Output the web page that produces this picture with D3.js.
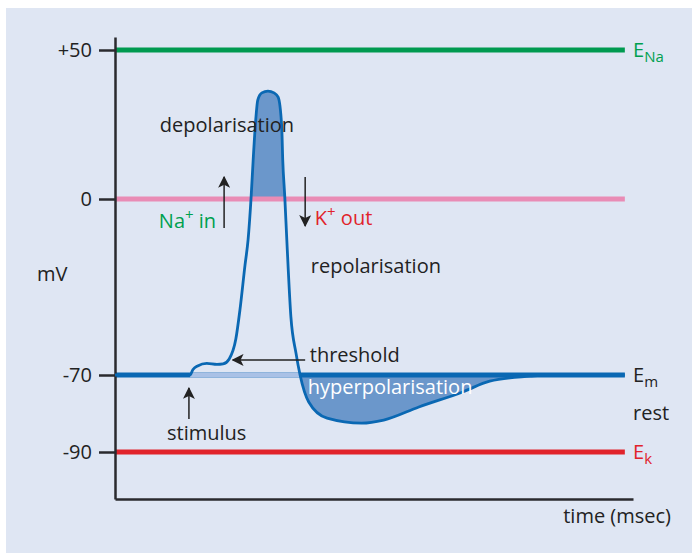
<!DOCTYPE html>
<html>
<head>
<meta charset="utf-8">
<script src="https://cdn.jsdelivr.net/npm/d3@7"></script>
<style>
  body { margin: 0; background: #fff; }
  text { font-family: "Open Sans", "Noto Sans", sans-serif; }
</style>
</head>
<body>
<svg id="chart" width="692" height="553"></svg>
<script>
// membrane potential trace: time (ms) and voltage (mV)
const timeMs = [0, 1.47, 1.53, 1.62, 1.80, 2.00, 2.12, 2.24, 2.37, 2.45, 2.55, 2.61, 2.67, 2.71, 2.76, 2.80, 2.88, 3.00,
  3.12, 3.20, 3.27, 3.29, 3.33, 3.37, 3.45, 3.55, 3.63, 3.80, 4.16, 4.84, 5.27, 5.96, 6.82, 7.35, 8.14, 8.43, 10];
const voltage = [-70, -70, -67.8, -66.4, -65.4, -65.8, -65.6, -63.6, -55.7, -44.2, -26.3, -16.3, 0.7, 13.1, 26.5, 33.2, 35.6, 36.2,
  35.6, 34.2, 24.2, 13.1, 0.7, -16.3, -46.9, -61.3, -70, -77.0, -81.2, -82.5, -81.7, -78.3, -74.4, -71.6, -70.3, -70, -70];

// reference potentials
const levels = [
  { v: 50, color: "#009a50" },
  { v: 0, color: "#e98cb5" },
  { v: -70, color: "#0a68b3" },
  { v: -90, color: "#e1232b" }
];
const tickValues = [50, 0, -70, -90];
const stimulusT = 1.47, repolT = 3.63;

// annotations in data units
const notes = [
  { t: 0.88, v: 22.5, text: "depolarisation", color: "#222" },
  { t: 3.84, v: -29.4, text: "repolarisation", color: "#222" },
  { t: 3.82, v: -64.8, text: "threshold", color: "#222" },
  { t: 3.78, v: -74.9, text: "hyperpolarisation", color: "#fff" },
  { t: 1.02, v: -86.9, text: "stimulus", color: "#222" }
];
const arrows = [
  { t1: 2.14, v1: -11.5, t2: 2.14, v2: 7.4 },
  { t1: 3.73, v1: 7.4, t2: 3.73, v2: -10.7 },
  { t1: 3.73, v1: -64.0, t2: 2.31, v2: -64.0 },
  { t1: 1.45, v1: -81.4, t2: 1.45, v2: -73.4 }
];

const svg = d3.select("#chart");
const fs = 20;

svg.append("rect").attr("x", 6).attr("y", 8).attr("width", 686).attr("height", 545).attr("fill", "#dfe6f3");

const x = d3.scaleLinear().domain([0, 10.16]).range([115, 633]);
// the drawing's voltage axis is not evenly spaced
const y = d3.scaleLinear().domain([-102, -90, -70, 0, 50, 54.4]).range([499, 452, 375, 199, 50, 37]);

const pts = timeMs.map((t, i) => ({ t, v: voltage[i] }));

const defs = svg.append("defs");
defs.append("marker").attr("id", "head").attr("viewBox", "0 0 10 10")
  .attr("refX", 9).attr("refY", 5).attr("markerWidth", 12).attr("markerHeight", 12)
  .attr("markerUnits", "userSpaceOnUse").attr("orient", "auto")
  .append("path").attr("d", "M0,0 L10,5 L0,10 L2.5,5 Z").attr("fill", "#222");

defs.append("clipPath").attr("id", "above0").append("rect")
  .attr("x", x(0)).attr("y", 0).attr("width", x(10) - x(0)).attr("height", y(0) - 2);
defs.append("clipPath").attr("id", "below70").append("rect")
  .attr("x", x(repolT) - 2).attr("y", y(-70)).attr("width", x(10) - x(repolT)).attr("height", 100);

const curve = d3.curveMonotoneX;

// shaded areas
svg.append("path").datum(pts).attr("clip-path", "url(#above0)")
  .attr("fill", "#6b97cb")
  .attr("d", d3.area().x(d => x(d.t)).y0(y(0)).y1(d => y(d.v)).curve(curve));
svg.append("path").datum(pts).attr("clip-path", "url(#below70)")
  .attr("fill", "#6b97cb")
  .attr("d", d3.area().x(d => x(d.t)).y0(y(-70)).y1(d => y(d.v)).curve(curve));

// reference lines
svg.selectAll(".level").data(levels).enter().append("line")
  .attr("x1", x(0)).attr("x2", x(10))
  .attr("y1", d => y(d.v)).attr("y2", d => y(d.v))
  .attr("stroke", d => d.color).attr("stroke-width", 5);
svg.append("line")
  .attr("x1", x(stimulusT)).attr("x2", x(repolT))
  .attr("y1", y(-70)).attr("y2", y(-70))
  .attr("stroke", "#a9c1e6").attr("stroke-width", 5);

// axes
const yAxis = svg.append("g").attr("transform", `translate(${x(0)},0)`)
  .call(d3.axisLeft(y).tickValues(tickValues).tickFormat(d => d > 0 ? "+" + d : d)
    .tickSizeInner(16).tickSizeOuter(0).tickPadding(7));
yAxis.selectAll("path, line").attr("stroke", "#2a2a2e").attr("stroke-width", 2.5);
yAxis.selectAll("text").attr("font-size", fs).attr("fill", "#222").attr("font-family", "Open Sans");

const xAxis = svg.append("g").attr("transform", `translate(0,${y(-102)})`)
  .call(d3.axisBottom(x).tickValues([]).tickSizeOuter(0));
xAxis.select("path").attr("stroke", "#2a2a2e").attr("stroke-width", 2.5);

// trace
svg.append("path").datum(pts)
  .attr("fill", "none").attr("stroke", "#0a68b3").attr("stroke-width", 2.8)
  .attr("d", d3.line().x(d => x(d.t)).y(d => y(d.v)).curve(curve));

// arrows
svg.selectAll(".arrow").data(arrows).enter().append("line")
  .attr("x1", d => x(d.t1)).attr("y1", d => y(d.v1))
  .attr("x2", d => x(d.t2)).attr("y2", d => y(d.v2))
  .attr("stroke", "#222").attr("stroke-width", 1.5).attr("marker-end", "url(#head)");

// labels
svg.selectAll(".note").data(notes).enter().append("text")
  .attr("x", d => x(d.t)).attr("y", d => y(d.v))
  .attr("font-size", fs).attr("fill", d => d.color).text(d => d.text);

const na = svg.append("text").attr("x", x(0.86)).attr("y", y(-11.5)).attr("font-size", fs).attr("fill", "#00a04f");
na.append("tspan").text("Na");
na.append("tspan").attr("dy", -8).attr("font-size", 15).text("+");
na.append("tspan").attr("dy", 8).text(" in");

const k = svg.append("text").attr("x", x(3.92)).attr("y", y(-10.3)).attr("font-size", fs).attr("fill", "#e1232b");
k.append("tspan").text("K");
k.append("tspan").attr("dy", -8).attr("font-size", 15).text("+");
k.append("tspan").attr("dy", 8).text(" out");

svg.append("text").attr("x", 37).attr("y", y(-32.8)).attr("font-size", fs).attr("fill", "#222").text("mV");

const rightX = x(10.16);
function eLabel(v, sub, color) {
  const t = svg.append("text").attr("x", rightX).attr("y", y(v) + 7).attr("font-size", fs).attr("fill", color);
  t.append("tspan").text("E");
  t.append("tspan").attr("dy", 5).attr("font-size", 15).text(sub);
}
eLabel(50, "Na", "#00a04f");
eLabel(-70, "m", "#222");
eLabel(-90, "k", "#e1232b");
svg.append("text").attr("x", rightX).attr("y", y(-70) + 45).attr("font-size", fs).attr("fill", "#222").text("rest");

svg.append("text").attr("x", 671).attr("y", 523).attr("text-anchor", "end")
  .attr("font-size", fs).attr("fill", "#222").text("time (msec)");
</script>
</body>
</html>
